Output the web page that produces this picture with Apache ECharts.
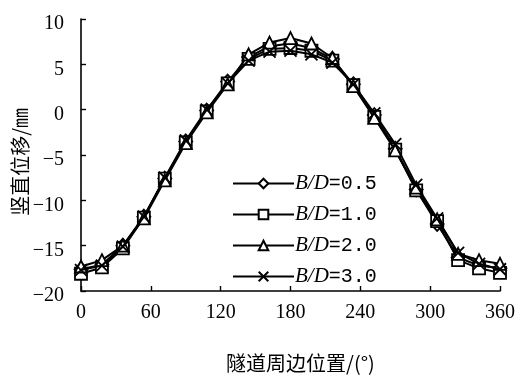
<!DOCTYPE html>
<html>
<head>
<meta charset="utf-8">
<script src="https://cdn.jsdelivr.net/npm/echarts@6/dist/echarts.min.js"></script>
<style>
  html, body { margin: 0; padding: 0; background: #fff; }
  #chart { width: 520px; height: 378px; }
</style>
</head>
<body>
<div id="chart"></div>
<script>
// Circumferential position around the tunnel lining (degrees)
const angles = [0, 18, 36, 54, 72, 90, 108, 126, 144, 162, 180, 198, 216, 234, 252, 270, 288, 306, 324, 342, 360];

// Vertical displacement (mm) for each spacing ratio B/D
const bd05 = [-17.6, -17.1, -15.0, -11.8, -7.6, -3.5, -0.1, 3.1, 5.8, 7.0, 7.3, 6.8, 5.6, 2.8, -0.6, -4.3, -8.8, -12.6, -16.3, -17.2, -17.5];
const bd10 = [-18.1, -17.4, -15.3, -11.9, -7.6, -3.6, -0.2, 2.9, 5.6, 6.7, 6.8, 6.5, 5.4, 2.7, -0.8, -4.4, -8.9, -12.3, -16.6, -17.5, -18.0];
const bd20 = [-17.3, -16.6, -15.0, -12.0, -7.8, -3.7, -0.3, 2.8, 6.1, 7.4, 7.9, 7.3, 5.7, 2.6, -0.9, -4.5, -8.6, -12.1, -15.9, -16.6, -17.0];
const bd30 = [-17.7, -17.2, -15.1, -11.8, -7.5, -3.4, 0.0, 2.9, 5.4, 6.4, 6.5, 6.1, 5.2, 2.8, -0.4, -3.8, -8.3, -12.0, -15.8, -17.0, -17.6];

const seriesNames = ['B/D=0.5', 'B/D=1.0', 'B/D=2.0', 'B/D=3.0'];
const seriesData = [bd05, bd10, bd20, bd30];
const symbols = ['diamond', 'rect', 'triangle', 'path://M0,0L10,10M10,0L0,10'];

const xTicks = { min: 0, max: 360, interval: 60 };
const yTicks = { min: -20, max: 10, interval: 5 };

const chart = echarts.init(document.getElementById('chart'), null, { renderer: 'canvas' });

const tickFont = { fontFamily: 'Liberation Serif', fontSize: 20, color: '#000' };
const minus = v => String(v).replace('-', '\u2212');

const series = seriesNames.map((name, i) => ({
  name: name,
  type: 'line',
  data: angles.map((a, k) => [a, seriesData[i][k]]),
  symbol: symbols[i],
  symbolSize: i === 0 ? [13, 14] : 12,
  showAllSymbol: true,
  z: 2 + i,
  lineStyle: { color: '#000', width: 2 },
  itemStyle: { color: '#fff', borderColor: '#000', borderWidth: 1.8 },
  emphasis: { disabled: true },
  animation: false
}));

chart.setOption({
  animation: false,
  backgroundColor: '#fff',
  grid: { left: 81, right: 20, top: 19, bottom: 76, containLabel: false },
  xAxis: {
    type: 'value',
    min: xTicks.min, max: xTicks.max, interval: xTicks.interval,
    axisLine: { show: true, onZero: false, lineStyle: { color: '#000', width: 1.6 } },
    axisTick: { show: true, inside: true, length: 5, lineStyle: { color: '#000', width: 1.4 } },
    splitLine: { show: false },
    axisLabel: Object.assign({ margin: 12, formatter: minus }, tickFont),
    name: '隧道周边位置/(°)',
    nameLocation: 'middle',
    nameGap: 62,
    nameTextStyle: { fontFamily: 'Noto Sans CJK SC', fontSize: 20, color: '#000', padding: [0, 0, 0, 20] }
  },
  yAxis: {
    type: 'value',
    min: yTicks.min, max: yTicks.max, interval: yTicks.interval,
    axisLine: { show: true, onZero: false, lineStyle: { color: '#000', width: 1.6 } },
    axisTick: { show: true, inside: true, length: 5, lineStyle: { color: '#000', width: 1.4 } },
    splitLine: { show: false },
    axisLabel: Object.assign({ margin: 17, formatter: minus, verticalAlign: 'top', lineHeight: 10 }, tickFont)
  },
  legend: {
    orient: 'vertical',
    left: 227,
    top: 168,
    itemWidth: 61,
    itemHeight: 12,
    itemGap: 10,
    selectedMode: false,
    data: seriesNames,
    formatter: name => '{i|B/D}{n|' + name.slice(3) + '}',
    textStyle: {
      padding: [0, 0, 0, -4],
      rich: {
        i: { fontFamily: 'Liberation Serif', fontStyle: 'italic', fontSize: 21, color: '#000' },
        n: { fontFamily: 'Liberation Mono', fontSize: 20, color: '#000' }
      }
    }
  },
  graphic: [{
    type: 'text',
    left: 10,
    top: 108,
    rotation: Math.PI / 2,
    style: {
      text: '竖直位移/㎜',
      font: '20px "Noto Sans CJK SC"',
      fill: '#000'
    }
  }],
  series: series
});
</script>
</body>
</html>
